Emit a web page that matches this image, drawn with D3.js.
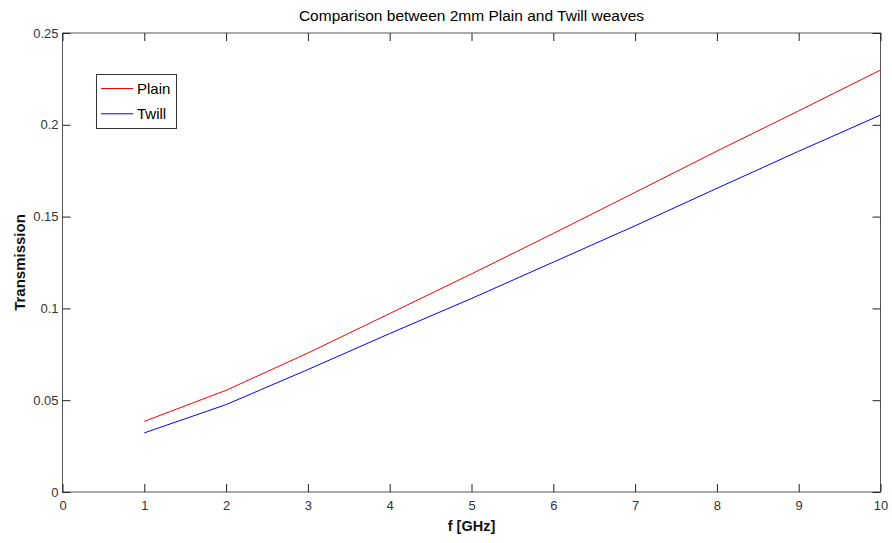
<!DOCTYPE html>
<html>
<head>
<meta charset="utf-8">
<script src="https://cdn.jsdelivr.net/npm/d3@7/dist/d3.min.js"></script>
<style>
  body { margin: 0; background: #fff; }
  svg { display: block; font-family: "Liberation Sans", Arial, sans-serif; }
</style>
</head>
<body>
<svg id="chart" width="892" height="543"></svg>
<script>
const freq = [1, 2, 3, 4, 5, 6, 7, 8, 9, 10];
const plain = [0.0385, 0.0554, 0.0757, 0.0972, 0.1188, 0.1408, 0.1632, 0.1857, 0.2076, 0.2298];
const twill = [0.0322, 0.0476, 0.0667, 0.0863, 0.1054, 0.1252, 0.1450, 0.1654, 0.1856, 0.2053];
const xTicks = [0, 1, 2, 3, 4, 5, 6, 7, 8, 9, 10];
const yTicks = [0, 0.05, 0.1, 0.15, 0.2, 0.25];
const seriesNames = ["Plain", "Twill"];
const seriesColors = ["#ff0000", "#0000ff"];
const titleText = "Comparison between 2mm Plain and Twill weaves";
const xLabel = "f [GHz]";
const yLabel = "Transmission";

const svg = d3.select("#chart");
const L = 62.5, R = 880.5, T = 33, B = 492;
const x = d3.scaleLinear().domain([0, 10]).range([L, R]);
const y = d3.scaleLinear().domain([0, 0.25]).range([B, T]);
const axisColor = "#555";
const tickLen = 8;

// box
svg.append("rect").attr("x", L).attr("y", T).attr("width", R - L).attr("height", B - T)
  .attr("fill", "none").attr("stroke", axisColor).attr("stroke-width", 1);

function styleAxis(g) {
  g.select(".domain").remove();
  g.selectAll(".tick line").attr("stroke", "#222");
  g.selectAll(".tick text").attr("fill", "#333").style("font-size", "13px")
    .style("font-family", "'Liberation Sans', Arial, sans-serif");
}

// bottom axis (ticks inward)
svg.append("g").attr("transform", `translate(0,${B})`)
  .call(d3.axisBottom(x).tickValues(xTicks).tickFormat(d3.format("d")).tickSizeInner(-tickLen).tickSizeOuter(0).tickPadding(9))
  .call(styleAxis);
// top axis ticks
svg.append("g").attr("transform", `translate(0,${T})`)
  .call(d3.axisTop(x).tickValues(xTicks).tickFormat("").tickSizeInner(-tickLen).tickSizeOuter(0))
  .call(styleAxis);
// left axis
svg.append("g").attr("transform", `translate(${L},0)`)
  .call(d3.axisLeft(y).tickValues(yTicks).tickFormat(d => d === 0 ? "0" : String(+d.toFixed(2))).tickSizeInner(-tickLen).tickSizeOuter(0).tickPadding(4))
  .call(styleAxis);
// right axis ticks
svg.append("g").attr("transform", `translate(${R},0)`)
  .call(d3.axisRight(y).tickValues(yTicks).tickFormat("").tickSizeInner(-tickLen).tickSizeOuter(0))
  .call(styleAxis);

// lines
const line = d3.line().x((d, i) => x(freq[i])).y(d => y(d));
[plain, twill].forEach((s, k) => {
  svg.append("path").datum(s).attr("d", line).attr("fill", "none")
    .attr("stroke", seriesColors[k]).attr("stroke-width", 1);
});

// title and labels
svg.append("text").attr("x", (L + R) / 2).attr("y", 21).attr("text-anchor", "middle")
  .style("font-size", "15.5px").attr("fill", "#000").text(titleText);
svg.append("text").attr("x", (L + R) / 2).attr("y", 531).attr("text-anchor", "middle")
  .style("font-size", "14.5px").style("font-weight", "bold").attr("fill", "#111").text(xLabel);
svg.append("text").attr("transform", `translate(25,${(T + B) / 2}) rotate(-90)`).attr("text-anchor", "middle")
  .style("font-size", "15px").style("font-weight", "bold").attr("fill", "#111").text(yLabel);

// legend
const lg = svg.append("g");
lg.append("rect").attr("x", 96.5).attr("y", 74.5).attr("width", 80).attr("height", 54)
  .attr("fill", "#fff").attr("stroke", "#333").attr("stroke-width", 1);
seriesNames.forEach((n, k) => {
  const yy = 88.5 + k * 25.3;
  lg.append("line").attr("x1", 101).attr("x2", 133).attr("y1", yy).attr("y2", yy)
    .attr("stroke", seriesColors[k]).attr("stroke-width", 1);
  lg.append("text").attr("x", 137).attr("y", yy + 5.5).style("font-size", "15px")
    .attr("fill", "#000").text(n);
});
</script>
</body>
</html>
